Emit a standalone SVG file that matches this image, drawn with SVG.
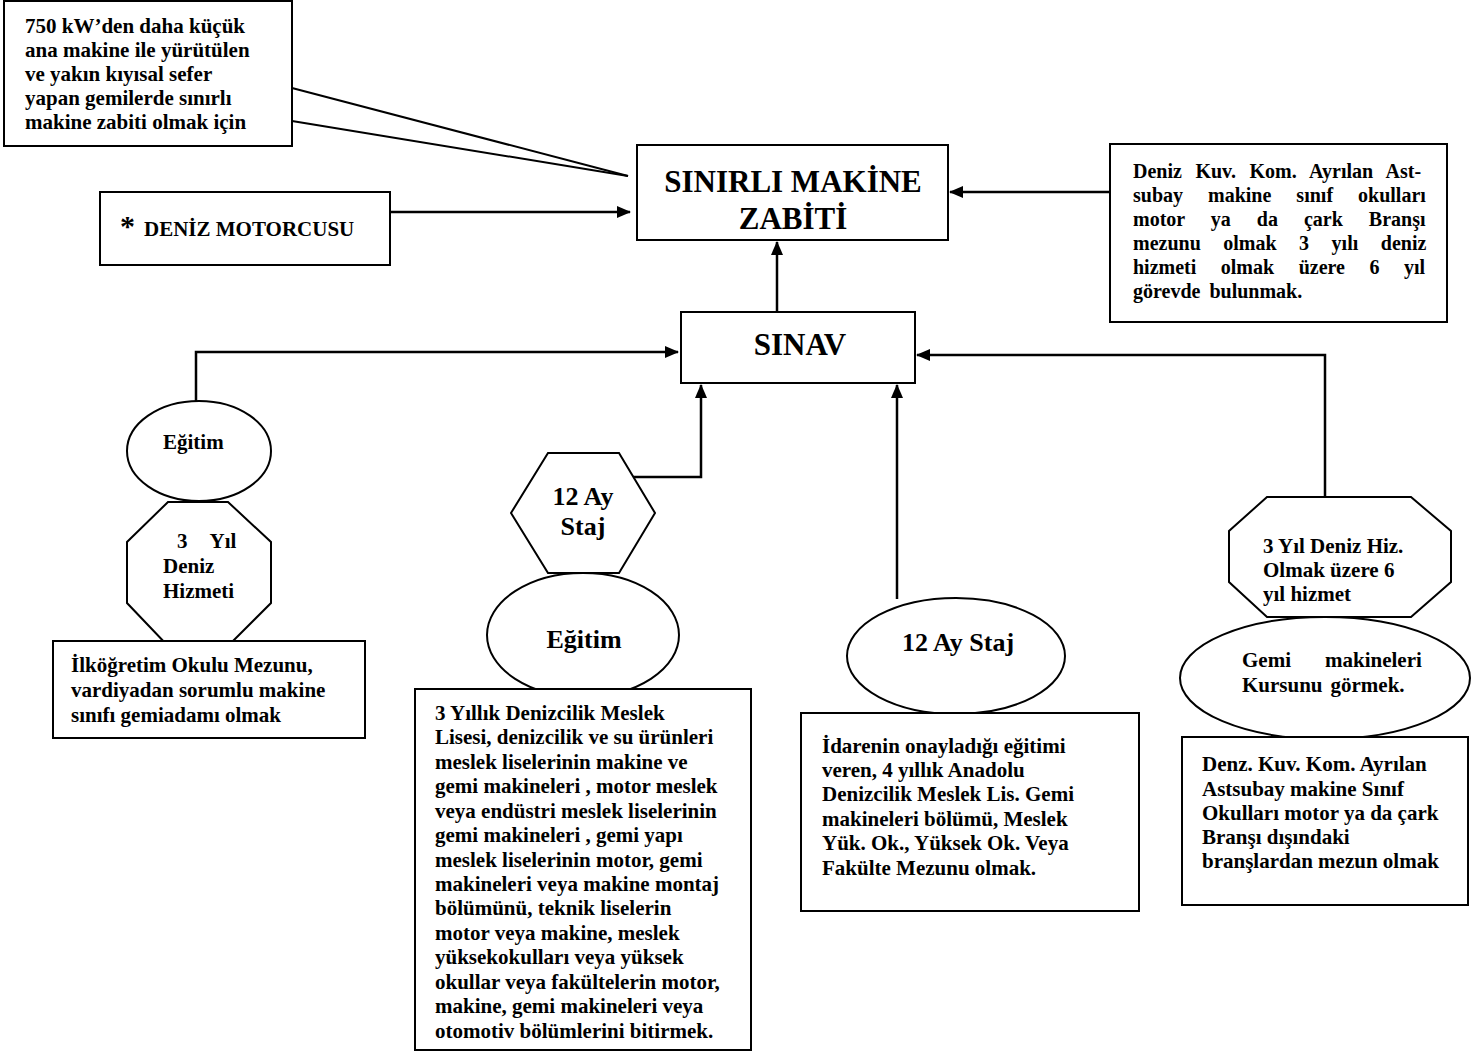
<svg xmlns="http://www.w3.org/2000/svg" width="1480" height="1055" viewBox="0 0 1480 1055">
<defs>
<marker id="arr" markerWidth="14" markerHeight="12" refX="13" refY="6" orient="auto" markerUnits="userSpaceOnUse">
<path d="M0,0 L14,6 L0,12 Z" fill="#000"/>
</marker>
<style>
.shape{fill:#fff;stroke:#000;stroke-width:2}
.t{font-family:"Liberation Serif","Times New Roman",serif;font-weight:bold;fill:#000;font-size:21px}
.c{text-anchor:middle}
.big{font-size:26px}
.huge{font-size:31px}
.j{font-size:20px}
.ln{fill:none;stroke:#000;stroke-width:2}
.ar{fill:none;stroke:#000;stroke-width:2.5;marker-end:url(#arr)}
</style>
</defs>
<rect width="1480" height="1055" fill="#fff"/>

<g id="connectors">
<line class="ln" x1="292" y1="88" x2="628" y2="176"/>
<line class="ln" x1="292" y1="121" x2="628" y2="176"/>
<line class="ar" x1="390" y1="212" x2="630" y2="212"/>
<line class="ar" x1="1110" y1="192" x2="950" y2="192"/>
<line class="ar" x1="777" y1="312" x2="777" y2="242"/>
<polyline class="ar" points="196,402 196,352 678,352"/>
<polyline class="ar" points="1325,501 1325,355 917,355"/>
<polyline class="ar" points="632,477 701,477 701,385"/>
<line class="ar" x1="897" y1="599" x2="897" y2="385"/>
</g>

<g id="callout">
<rect class="shape" x="4" y="1" width="288" height="145"/>
<text class="t" x="25" y="33">750 kW’den daha küçük</text>
<text class="t" x="25" y="57">ana makine ile yürütülen</text>
<text class="t" x="25" y="81">ve yakın kıyısal sefer</text>
<text class="t" x="25" y="105">yapan gemilerde sınırlı</text>
<text class="t" x="25" y="129">makine zabiti olmak için</text>
</g>

<g id="deniz-motorcusu">
<rect class="shape" x="100" y="192" width="290" height="73"/>
<text class="t" x="120" y="236"><tspan style="font-size:30px">*</tspan><tspan dx="9">DENİZ MOTORCUSU</tspan></text>
</g>

<g id="sinirli">
<rect class="shape" x="637" y="145" width="311" height="95"/>
<text class="t c huge" x="793" y="192">SINIRLI MAKİNE</text>
<text class="t c huge" x="793" y="229">ZABİTİ</text>
</g>

<g id="astsubay">
<rect class="shape" x="1110" y="144" width="337" height="178"/>
<text class="t j" x="1133" y="178" style="word-spacing:8.5px">Deniz Kuv. Kom. Ayrılan Ast-</text>
<text class="t j" x="1133" y="202" style="word-spacing:20px">subay makine sınıf okulları</text>
<text class="t j" x="1133" y="226" style="word-spacing:21px">motor ya da çark Branşı</text>
<text class="t j" x="1133" y="250" style="word-spacing:17.5px">mezunu olmak 3 yılı deniz</text>
<text class="t j" x="1133" y="274" style="word-spacing:19.5px">hizmeti olmak üzere 6 yıl</text>
<text class="t j" x="1133" y="298" style="word-spacing:4px">görevde bulunmak.</text>
</g>

<g id="sinav">
<rect class="shape" x="681" y="312" width="234" height="71"/>
<text class="t c huge" x="800" y="355">SINAV</text>
</g>

<g id="egitim-1">
<ellipse class="shape" cx="199" cy="451" rx="72" ry="50"/>
<text class="t" x="163" y="449">Eğitim</text>
</g>

<g id="deniz-hizmeti">
<polygon class="shape" points="168,502 228,502 271,542 271,603 228,646 168,646 127,603 127,542"/>
<text class="t" x="177" y="548">3<tspan dx="22">Yıl</tspan></text>
<text class="t" x="163" y="573">Deniz</text>
<text class="t" x="163" y="598">Hizmeti</text>
</g>

<g id="ilkogretim">
<rect class="shape" x="53" y="641" width="312" height="97"/>
<text class="t" x="71" y="672">İlköğretim Okulu Mezunu,</text>
<text class="t" x="71" y="697">vardiyadan sorumlu makine</text>
<text class="t" x="71" y="722">sınıfı gemiadamı olmak</text>
</g>

<g id="staj-hex">
<polygon class="shape" points="548,453 619,453 655,513 619,573 548,573 511,513"/>
<text class="t c big" x="583" y="505">12 Ay</text>
<text class="t c big" x="583" y="535">Staj</text>
</g>

<g id="egitim-2">
<ellipse class="shape" cx="583" cy="635" rx="96" ry="62"/>
<text class="t c big" x="584" y="648">Eğitim</text>
</g>

<g id="meslek-lisesi">
<rect class="shape" x="415" y="689" width="336" height="361"/>
<text class="t" x="435" y="720">3 Yıllık Denizcilik Meslek</text>
<text class="t" x="435" y="744">Lisesi, denizcilik ve su ürünleri</text>
<text class="t" x="435" y="769">meslek liselerinin makine ve</text>
<text class="t" x="435" y="793">gemi makineleri , motor meslek</text>
<text class="t" x="435" y="818">veya endüstri meslek liselerinin</text>
<text class="t" x="435" y="842">gemi makineleri , gemi yapı</text>
<text class="t" x="435" y="867">meslek liselerinin motor, gemi</text>
<text class="t" x="435" y="891">makineleri veya makine montaj</text>
<text class="t" x="435" y="915">bölümünü, teknik liselerin</text>
<text class="t" x="435" y="940">motor veya makine, meslek</text>
<text class="t" x="435" y="964">yüksekokulları veya yüksek</text>
<text class="t" x="435" y="989">okullar veya fakültelerin motor,</text>
<text class="t" x="435" y="1013">makine, gemi makineleri veya</text>
<text class="t" x="435" y="1038">otomotiv bölümlerini bitirmek.</text>
</g>

<g id="staj-ellipse">
<ellipse class="shape" cx="956" cy="656" rx="109" ry="58"/>
<text class="t c big" x="958" y="651">12 Ay Staj</text>
</g>

<g id="idarenin">
<rect class="shape" x="801" y="713" width="338" height="198"/>
<text class="t" x="822" y="753">İdarenin onayladığı eğitimi</text>
<text class="t" x="822" y="777">veren, 4 yıllık Anadolu</text>
<text class="t" x="822" y="801">Denizcilik Meslek Lis. Gemi</text>
<text class="t" x="822" y="826">makineleri bölümü, Meslek</text>
<text class="t" x="822" y="850">Yük. Ok., Yüksek Ok. Veya</text>
<text class="t" x="822" y="875">Fakülte Mezunu olmak.</text>
</g>

<g id="deniz-hiz-6">
<polygon class="shape" points="1267,497 1411,497 1451,531 1451,582 1411,617 1267,617 1229,582 1229,531"/>
<text class="t" x="1263" y="553">3 Yıl Deniz Hiz.</text>
<text class="t" x="1263" y="577">Olmak üzere 6</text>
<text class="t" x="1263" y="601">yıl hizmet</text>
</g>

<g id="kurs">
<ellipse class="shape" cx="1325" cy="678" rx="145" ry="61"/>
<text class="t" x="1242" y="667">Gemi<tspan dx="34">makineleri</tspan></text>
<text class="t" x="1242" y="692">Kursunu<tspan dx="8">görmek.</tspan></text>
</g>

<g id="denz-kuv">
<rect class="shape" x="1182" y="737" width="286" height="168"/>
<text class="t" x="1202" y="771">Denz. Kuv. Kom. Ayrılan</text>
<text class="t" x="1202" y="796">Astsubay makine Sınıf</text>
<text class="t" x="1202" y="820">Okulları motor ya da çark</text>
<text class="t" x="1202" y="844">Branşı dışındaki</text>
<text class="t" x="1202" y="868">branşlardan mezun olmak</text>
</g>
</svg>
